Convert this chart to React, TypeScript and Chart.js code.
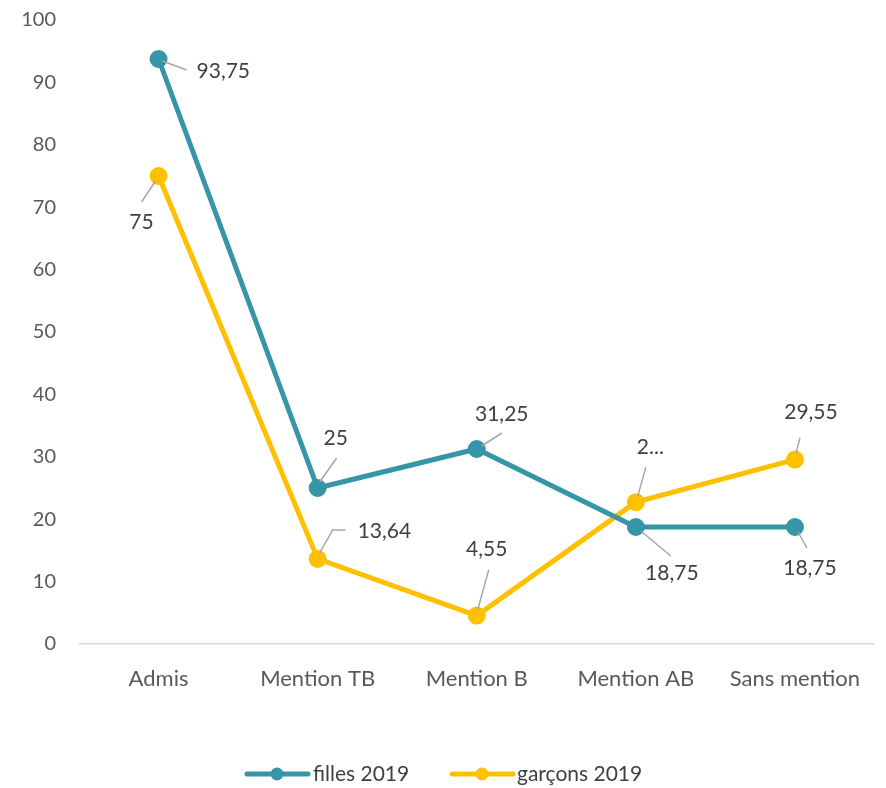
import React, { useEffect, useRef } from "react";
import { Chart, registerables } from "chart.js";

Chart.register(...registerables);

const categories = ["Admis", "Mention TB", "Mention B", "Mention AB", "Sans mention"];
const fillesValues = [93.75, 25, 31.25, 18.75, 18.75];
const garconsValues = [75, 13.64, 4.55, 22.73, 29.55];
const fillesLabels = ["93,75", "25", "31,25", "18,75", "18,75"];
const garconsLabels = ["75", "13,64", "4,55", "2...", "29,55"];
const seriesNames = ["filles 2019", "garçons 2019"];

const TEAL = "#3795A8";
const GOLD = "#FFC000";
const FONT = "Lato, 'Open Sans', sans-serif";

// label placement relative to each point (pixels): leader path points and label anchor
type Place = { path: [number, number][]; lx: number; ly: number; align: CanvasTextAlign };
const fillesPlaces: Place[] = [
  { path: [[4, 2], [28, 11]], lx: 38, ly: 12, align: "left" },
  { path: [[2, -6], [19, -30]], lx: 18, ly: -50, align: "center" },
  { path: [[5, -3], [25, -16]], lx: 25, ly: -35, align: "center" },
  { path: [[5, 4], [35, 29]], lx: 36, ly: 46, align: "center" },
  { path: [[3, 5], [12, 21]], lx: 15, ly: 41, align: "center" },
];
const garconsPlaces: Place[] = [
  { path: [[-3, 5], [-17, 26]], lx: -17, ly: 46, align: "center" },
  { path: [[2, -6], [15, -29], [28, -29]], lx: 40, ly: -28, align: "left" },
  { path: [[1, -6], [12, -46]], lx: 10, ly: -66, align: "center" },
  { path: [[2, -6], [10, -35]], lx: 1, ly: -55, align: "left" },
  { path: [[1, -6], [5, -22]], lx: 16, ly: -47, align: "center" },
];

const labelPlugin = {
  id: "leaderLabels",
  afterDatasetsDraw(chart: any) {
    const ctx = chart.ctx;
    const sets = [
      { meta: chart.getDatasetMeta(0), labels: fillesLabels, places: fillesPlaces },
      { meta: chart.getDatasetMeta(1), labels: garconsLabels, places: garconsPlaces },
    ];
    ctx.save();
    sets.forEach((s) => {
      s.meta.data.forEach((pt: any, i: number) => {
        const p = s.places[i];
        const x = pt.x;
        const y = pt.y;
        ctx.strokeStyle = "#A6A6A6";
        ctx.lineWidth = 1.5;
        ctx.beginPath();
        p.path.forEach(([dx, dy], k) => {
          if (k === 0) ctx.moveTo(x + dx, y + dy);
          else ctx.lineTo(x + dx, y + dy);
        });
        ctx.stroke();
        ctx.fillStyle = "#404040";
        ctx.font = `21px ${FONT}`;
        ctx.textAlign = p.align;
        ctx.textBaseline = "middle";
        ctx.fillText(s.labels[i], x + p.lx, y + p.ly);
      });
    });
    ctx.restore();
  },
};

const legendPlugin = {
  id: "customLegend",
  afterDraw(chart: any) {
    const ctx = chart.ctx;
    const y = 774;
    const items = [
      { x: 247, tx: 313 },
      { x: 452, tx: 517 },
    ];
    ctx.save();
    chart.data.datasets.forEach((ds: any, i: number) => {
      const it = items[i];
      ctx.strokeStyle = ds.borderColor;
      ctx.lineWidth = 5;
      ctx.lineCap = "round";
      ctx.beginPath();
      ctx.moveTo(it.x, y);
      ctx.lineTo(it.x + 61, y);
      ctx.stroke();
      ctx.fillStyle = ds.borderColor;
      ctx.beginPath();
      ctx.arc(it.x + 30, y, 6.5, 0, Math.PI * 2);
      ctx.fill();
      ctx.fillStyle = "#404040";
      ctx.font = `21px ${FONT}`;
      ctx.textAlign = "left";
      ctx.textBaseline = "middle";
      ctx.fillText(ds.label, it.tx, y);
    });
    ctx.restore();
  },
};

export default function App() {
  const ref = useRef<HTMLCanvasElement | null>(null);
  useEffect(() => {
    document.body.style.margin = "0";
    if (!ref.current) return;
    const chart = new Chart(ref.current, {
      type: "line",
      data: {
        labels: categories,
        datasets: [
          {
            label: seriesNames[0],
            data: fillesValues,
            borderColor: TEAL,
            backgroundColor: TEAL,
            borderWidth: 5,
            pointRadius: 6.5,
            pointBackgroundColor: TEAL,
            pointBorderColor: TEAL,
            tension: 0,
          },
          {
            label: seriesNames[1],
            data: garconsValues,
            borderColor: GOLD,
            backgroundColor: GOLD,
            borderWidth: 5,
            pointRadius: 6.5,
            pointBackgroundColor: GOLD,
            pointBorderColor: GOLD,
            tension: 0,
          },
        ],
      },
      options: {
        animation: false,
        responsive: false,
        layout: { padding: { top: 20, right: 8, left: 0, bottom: 0 } },
        plugins: {
          legend: { display: false },
          tooltip: { enabled: false },
        },
        scales: {
          x: {
            offset: true,
            grid: {
              display: true,
              drawOnChartArea: false,
              drawTicks: true,
              tickLength: 20,
              tickColor: "rgba(0,0,0,0)",
              offset: true,
            },
            border: { display: false },
            ticks: {
              color: "#595959",
              font: { family: FONT, size: 22 },
              padding: 2,
              maxRotation: 0,
              autoSkip: false,
            },
            afterFit: (scale: any) => {
              scale.height = 144;
            },
          },
          y: {
            min: 0,
            max: 100,
            ticks: {
              stepSize: 10,
              color: "#595959",
              font: { family: FONT, size: 20 },
              padding: 3,
            },
            grid: {
              drawTicks: true,
              tickLength: 20,
              tickColor: "rgba(0,0,0,0)",
              color: (c: any) => (c.tick && c.tick.value === 0 ? "#D9D9D9" : "rgba(0,0,0,0)"),
              lineWidth: 1.5,
            },
            border: { display: false },
            afterFit: (scale: any) => {
              scale.width = 79;
            },
          },
        },
      },
      plugins: [labelPlugin, legendPlugin],
    });
    return () => chart.destroy();
  }, []);
  return (
    <div style={{ width: 886, height: 788 }}>
      <canvas ref={ref} width={886} height={788} style={{ width: 886, height: 788, display: "block" }} />
    </div>
  );
}
